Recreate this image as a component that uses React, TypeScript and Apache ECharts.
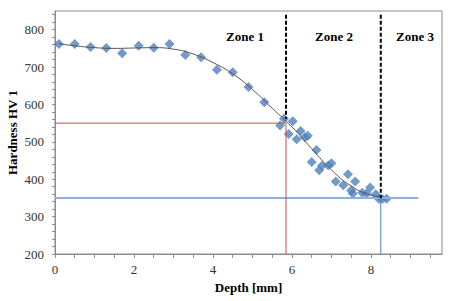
import React, { useEffect, useRef } from "react";
import * as echarts from "echarts";

const depth = [0.1, 0.5, 0.9, 1.3, 1.7, 2.12, 2.5, 2.9, 3.3, 3.7, 4.1, 4.5, 4.9, 5.3, 5.7, 5.8, 5.92, 6.02, 6.12, 6.22, 6.33, 6.4, 6.5, 6.62, 6.69, 6.76, 6.92, 7.0, 7.11, 7.3, 7.42, 7.5, 7.54, 7.6, 7.78, 7.89, 7.98, 8.12, 8.2, 8.29, 8.4];
const hardness = [762, 762, 754, 751, 737, 757, 752, 762, 732, 726, 693, 686, 647, 606, 544, 562, 521, 555, 507, 529, 512, 516, 446, 478, 424, 436, 437, 443, 394, 384, 413, 370, 362, 394, 364, 362, 378, 360, 348, 347, 348];

const trendDepth = [0.1, 0.5, 1.0, 1.5, 2.0, 2.5, 3.0, 3.5, 4.0, 4.5, 5.0, 5.5, 6.0, 6.5, 7.0, 7.5, 8.0, 8.3];
const trendHardness = [762, 757, 752, 750, 751, 752, 748, 735, 712, 682, 640, 590, 540, 482, 425, 382, 357, 352];

const zoneNames = ["Zone 1", "Zone 2", "Zone 3"];
const yTickLabels = [200, 300, 400, 500, 600, 700, 800];
const xTickLabels = [0, 2, 4, 6, 8];

const zone1End = 5.85;
const zone2End = 8.25;
const level1 = 550;
const level2 = 350;
const level2LineEnd = 9.2;
const dashTop = 840;
const dash1Bottom = 562;

const SERIF = "'Liberation Serif', 'Times New Roman', Times, serif";

export default function App() {
  const ref = useRef<HTMLDivElement>(null);
  useEffect(() => {
    if (!ref.current) return;
    const chart = echarts.init(ref.current, undefined, { renderer: "svg" });
    const zoneFont = "bold 13px " + SERIF;
    chart.setOption({
      animation: false,
      textStyle: { fontFamily: SERIF },
      grid: {
        left: 55, top: 11, right: 9, bottom: 47,
        containLabel: false, outerBoundsMode: "none",
        show: true, borderColor: "#8c8c8c", borderWidth: 1,
      },
      xAxis: {
        type: "value",
        min: 0,
        max: 9.8,
        interval: 0.5,
        name: "Depth [mm]",
        nameLocation: "middle",
        nameGap: 27,
        nameMoveOverlap: false,
        nameTextStyle: { fontFamily: SERIF, fontWeight: "bold", fontSize: 13, color: "#000" },
        axisLine: { onZero: false, lineStyle: { color: "#8c8c8c" } },
        axisTick: { length: 4, lineStyle: { color: "#8c8c8c" } },
        axisLabel: {
          margin: 9,
          fontFamily: SERIF,
          fontSize: 13,
          color: "#333",
          showMaxLabel: false,
          formatter: (v: number) => (xTickLabels.some((t) => Math.abs(t - v) < 1e-9) ? String(v) : ""),
        },
        splitLine: { show: false },
      },
      yAxis: {
        type: "value",
        min: 200,
        max: 850,
        interval: 20,
        name: "Hardness HV 1",
        nameLocation: "middle",
        nameGap: 36,
        nameRotate: 90,
        nameMoveOverlap: false,
        nameTextStyle: { fontFamily: SERIF, fontWeight: "bold", fontSize: 13, color: "#000" },
        axisLine: { show: true, onZero: false, lineStyle: { color: "#8c8c8c" } },
        axisTick: { show: true, length: 3, lineStyle: { color: "#8c8c8c" } },
        axisLabel: {
          margin: 11,
          fontFamily: SERIF,
          fontSize: 13,
          color: "#333",
          showMaxLabel: false,
          formatter: (v: number) => (yTickLabels.includes(v) ? String(v) : ""),
        },
        splitLine: { show: false },
      },
      graphic: [
        { type: "text", left: 226, top: 30, style: { text: zoneNames[0], font: zoneFont, fill: "#000" } },
        { type: "text", left: 315, top: 30, style: { text: zoneNames[1], font: zoneFont, fill: "#000" } },
        { type: "text", left: 396, top: 30, style: { text: zoneNames[2], font: zoneFont, fill: "#000" } },
      ],
      series: [
        {
          type: "line",
          data: [[0, level2], [level2LineEnd, level2]],
          symbol: "none",
          lineStyle: { color: "#8eb0db", width: 2 },
          silent: true,
        },
        {
          type: "line",
          data: [[0, level1], [zone1End, level1], [zone1End, 200]],
          symbol: "none",
          lineStyle: { color: "#c0504d", width: 1 },
          silent: true,
        },
        {
          type: "line",
          data: [[zone2End, level2], [zone2End, 200]],
          symbol: "none",
          lineStyle: { color: "#4f81bd", width: 1 },
          silent: true,
        },
        {
          type: "scatter",
          data: depth.map((d, i) => [d, hardness[i]]),
          symbol: "diamond",
          symbolSize: 10,
          itemStyle: { color: "#4f81bd" },
        },
        {
          type: "line",
          data: trendDepth.map((d, i) => [d, trendHardness[i]]),
          smooth: true,
          symbol: "none",
          lineStyle: { color: "#555", width: 1 },
        },
        {
          type: "line",
          data: [[zone1End, dashTop], [zone1End, dash1Bottom]],
          symbol: "none",
          lineStyle: { color: "#000", width: 2, type: [4, 2] },
        },
        {
          type: "line",
          data: [[zone2End, dashTop], [zone2End, level2]],
          symbol: "none",
          lineStyle: { color: "#000", width: 2, type: [4, 2] },
        },
      ],
    });
    return () => chart.dispose();
  }, []);
  return <div ref={ref} style={{ width: 451, height: 301, position: "absolute", left: 0, top: 0 }} />;
}
